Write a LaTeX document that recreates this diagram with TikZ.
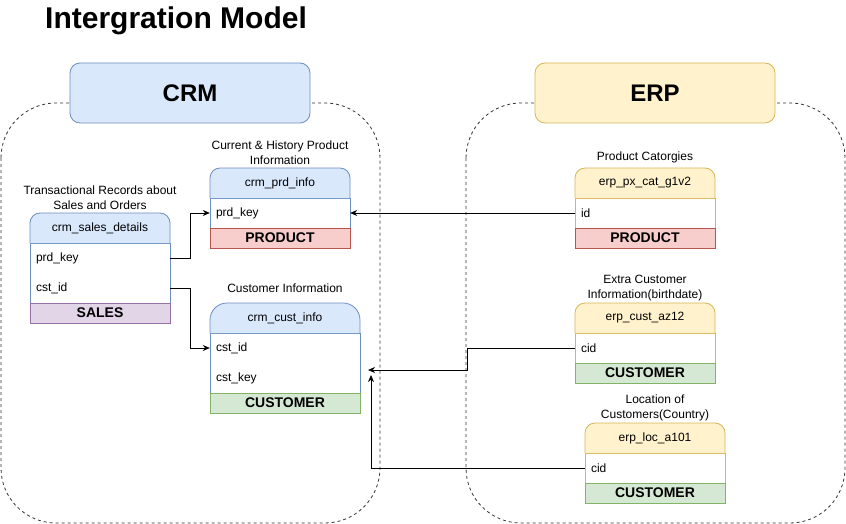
\documentclass[tikz,border=0pt]{standalone}
\usepackage{fontspec}
\setmainfont{Liberation Sans}
\usetikzlibrary{arrows.meta}

\definecolor{bluefill}{HTML}{DAE8FC}
\definecolor{bluedraw}{HTML}{6C8EBF}
\definecolor{yellowfill}{HTML}{FFF2CC}
\definecolor{yellowdraw}{HTML}{D6B656}
\definecolor{redfill}{HTML}{F8CECC}
\definecolor{reddraw}{HTML}{B85450}
\definecolor{greenfill}{HTML}{D5E8D4}
\definecolor{greendraw}{HTML}{82B366}
\definecolor{purplefill}{HTML}{E1D5E7}
\definecolor{purpledraw}{HTML}{9673A6}

\tikzset{
  container/.style={draw=black!80, line width=0.8pt, dash pattern=on 3pt off 3pt, rounded corners=55pt},
  groupbox/.style={rounded corners=10pt, line width=0.8pt, minimum width=240pt, minimum height=60pt,
    inner sep=0pt, font=\bfseries\fontsize{24}{28}\selectfont},
  hdr/.style={inner sep=0pt, font=\fontsize{12}{14}\selectfont},
  rowtext/.style={inner xsep=6pt, inner ysep=2pt, align=left, font=\fontsize{12}{14}\selectfont},
  band/.style={line width=0.8pt, minimum height=20pt, inner sep=0pt, font=\bfseries\fontsize{14}{16}\selectfont},
  caption/.style={inner sep=0pt, align=center, font=\fontsize{12}{15}\selectfont},
  tableline/.style={line width=0.8pt},
  conn/.style={draw=black, line width=0.8pt, -{Stealth[length=7pt,width=6pt]}}
}

\begin{document}
\begin{tikzpicture}[x=1pt, y=-1pt]
\useasboundingbox (0,0) rectangle (846,524);

% title
\node[anchor=base west, inner sep=0pt, font=\bfseries\fontsize{30}{34}\selectfont] (title) at (45,29) {Intergration Model};

% dashed group frames
\draw[container] (1,103) rectangle (380,523);
\draw[container] (466,103) rectangle (845,523);

% group headers
\node[groupbox, fill=bluefill, draw=bluedraw] (crm) at (190,93) {CRM};
\node[groupbox, fill=yellowfill, draw=yellowdraw] (erp) at (655,93) {ERP};

% ---------- crm_sales_details ----------
\filldraw[tableline, fill=white, draw=bluedraw] (30,243) rectangle (170,303);
\filldraw[tableline, fill=bluefill, draw=bluedraw, rounded corners=10pt] (30,243) -- (30,213) -- (170,213) -- (170,243);
\node[hdr] (salesH) at (100,228) {crm\_sales\_details};
\node[rowtext, text width=128pt] (salesPrd) at (100,258) {prd\_key};
\node[rowtext, text width=128pt] (salesCst) at (100,288) {cst\_id};
\node[band, fill=purplefill, draw=purpledraw, minimum width=140pt] (salesB) at (100,313) {SALES};
\node[caption] (salesCap) at (100,197.5) {Transactional Records about\\Sales and Orders};

% ---------- crm_prd_info ----------
\filldraw[tableline, fill=white, draw=bluedraw] (210,198) rectangle (350,228);
\filldraw[tableline, fill=bluefill, draw=bluedraw, rounded corners=10pt] (210,198) -- (210,168) -- (350,168) -- (350,198);
\node[hdr] (prdH) at (280,183) {crm\_prd\_info};
\node[rowtext, text width=128pt] (prdKey) at (280,213) {prd\_key};
\node[band, fill=redfill, draw=reddraw, minimum width=140pt] (prdB) at (280,238) {PRODUCT};
\node[caption] (prdCap) at (280,153) {Current \& History Product\\Information};

% ---------- crm_cust_info ----------
\filldraw[tableline, fill=white, draw=bluedraw] (210,333) rectangle (360,393);
\filldraw[tableline, fill=bluefill, draw=bluedraw, rounded corners=17pt] (210,333) -- (210,303) -- (360,303) -- (360,333);
\node[hdr] (custH) at (285,318) {crm\_cust\_info};
\node[rowtext, text width=138pt] (custId) at (285,348) {cst\_id};
\node[rowtext, text width=138pt] (custKey) at (285,378) {cst\_key};
\node[band, fill=greenfill, draw=greendraw, minimum width=150pt] (custB) at (285,403) {CUSTOMER};
\node[caption] (custCap) at (285,288) {Customer Information};

% ---------- erp_px_cat_g1v2 ----------
\filldraw[tableline, fill=white, draw=yellowdraw] (575,198) rectangle (715,228);
\filldraw[tableline, fill=yellowfill, draw=yellowdraw, rounded corners=10pt] (575,198) -- (575,168) -- (715,168) -- (715,198);
\node[hdr] (catH) at (645,183) {erp\_px\_cat\_g1v2};
\node[rowtext, text width=128pt] (catId) at (645,213) {id};
\node[band, fill=redfill, draw=reddraw, minimum width=140pt] (catB) at (645,238) {PRODUCT};
\node[caption] (catCap) at (645,157) {Product Catorgies};

% ---------- erp_cust_az12 ----------
\filldraw[tableline, fill=white, draw=yellowdraw] (575,333) rectangle (715,363);
\filldraw[tableline, fill=yellowfill, draw=yellowdraw, rounded corners=10pt] (575,333) -- (575,303) -- (715,303) -- (715,333);
\node[hdr] (azH) at (645,318) {erp\_cust\_az12};
\node[rowtext, text width=128pt] (azCid) at (645,348) {cid};
\node[band, fill=greenfill, draw=greendraw, minimum width=140pt] (azB) at (645,373) {CUSTOMER};
\node[caption] (azCap) at (645,288) {Extra Customer\\Information(birthdate)};

% ---------- erp_loc_a101 ----------
\filldraw[tableline, fill=white, draw=yellowdraw] (585,453) rectangle (725,483);
\filldraw[tableline, fill=yellowfill, draw=yellowdraw, rounded corners=10pt] (585,453) -- (585,423) -- (725,423) -- (725,453);
\node[hdr] (locH) at (655,438) {erp\_loc\_a101};
\node[rowtext, text width=128pt] (locCid) at (655,468) {cid};
\node[band, fill=greenfill, draw=greendraw, minimum width=140pt] (locB) at (655,493) {CUSTOMER};
\node[caption] (locCap) at (655,408) {Location of\\Customers(Country)};

% ---------- relations ----------
\coordinate (custInA) at (368,370);
\coordinate (custInB) at (371,375);
\draw[conn] (salesPrd.east) -- ++(20,0) |- (prdKey.west);
\draw[conn] (salesCst.east) -- ++(20,0) |- (custId.west);
\draw[conn] (catId.west) -- (prdKey.east);
\draw[conn] (azCid.west) -- ++(-107,0) |- (custInA);
\draw[conn] (locCid.west) -| (custInB);
\end{tikzpicture}
\end{document}
